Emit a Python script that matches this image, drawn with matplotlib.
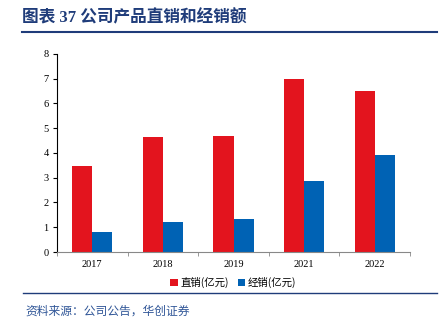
import numpy as np
import matplotlib.pyplot as plt

years = ['2017', '2018', '2019', '2021', '2022']
direct = [3.47, 4.65, 4.68, 7.0, 6.52]
dealer = [0.8, 1.2, 1.33, 2.87, 3.93]

red = '#E3141E'
blue = '#0062B4'
navy = '#1F3C7A'

plt.rcParams['font.family'] = ['Liberation Serif', 'Noto Sans CJK SC']

fig = plt.figure(figsize=(4.4, 3.25), dpi=100)
ax = fig.add_axes([0.1295, 0.2246, 0.8025, 0.6094])

x = np.arange(len(years))
w = 0.285
ax.bar(x - w / 2, direct, w, color=red, label='直销(亿元)')
ax.bar(x + w / 2, dealer, w, color=blue, label='经销(亿元)')

ax.set_xlim(-0.5, len(years) - 0.5)
ax.set_ylim(0, 8)
ax.set_yticks(range(0, 9))
ax.set_xticks(x)
ax.set_xticklabels(years)
ax.set_xticks(np.arange(-0.5, len(years)), minor=True)
ax.tick_params(axis='x', which='major', length=0, labelsize=7.5, pad=6)
ax.tick_params(axis='x', which='minor', length=3, color='#888888')
ax.tick_params(axis='y', length=3, labelsize=7.5, pad=3)
for s in ['top', 'right']:
    ax.spines[s].set_visible(False)
ax.spines['bottom'].set_color('#888888')
ax.spines['left'].set_linewidth(0.8)

leg = ax.legend(loc='upper center', bbox_to_anchor=(0.5, -0.08), ncol=2, frameon=False,
                handlelength=0.7, handleheight=0.7, handletextpad=0.3, columnspacing=0.8,
                prop={'family': ['Noto Sans CJK SC'], 'size': 7.5})

fig.text(0.05, 0.945, '图表 37 公司产品直销和经销额', color=navy, fontsize=12,
         fontweight='bold', family=['Liberation Serif', 'Noto Sans CJK SC'], va='center')
fig.add_artist(plt.Line2D([0.05, 0.993], [0.902, 0.902], color=navy, lw=1.5))
fig.add_artist(plt.Line2D([0.052, 0.993], [0.099, 0.099], color=navy, lw=1.0))
fig.text(0.057, 0.043, '资料来源：公司公告，华创证券', color='#2F5597', fontsize=8.5,
         family=['Noto Sans CJK SC'], va='center')

fig.savefig('out.png', dpi=100)
